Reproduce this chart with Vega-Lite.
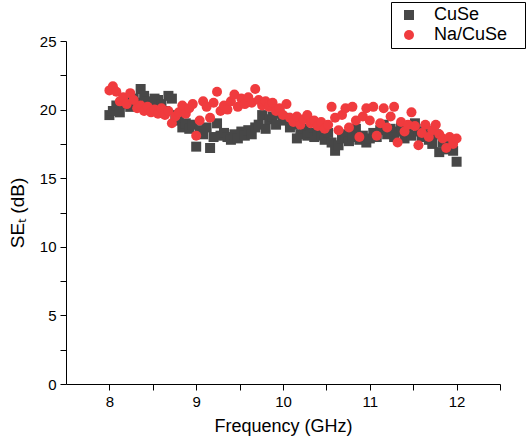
{
  "$schema": "https://vega.github.io/schema/vega-lite/v6.json",
  "width": 434,
  "height": 343,
  "autosize": {"type": "none"},
  "padding": {"left": 66, "top": 41, "right": 31, "bottom": 57},
  "background": "white",
  "config": {
    "view": {"stroke": null},
    "font": "Liberation Sans",
    "axis": {
      "grid": false,
      "domainColor": "black",
      "tickColor": "black",
      "labelColor": "black",
      "titleColor": "black",
      "labelFont": "Liberation Sans",
      "titleFont": "Liberation Sans",
      "labelFontSize": 15,
      "titleFontSize": 18,
      "titleFontWeight": "normal",
      "domainWidth": 1,
      "tickWidth": 1
    }
  },
  "data": {
    "values": [
      {"f":8.00,"v":19.6,"s":"CuSe"},{"f":8.04,"v":19.9,"s":"CuSe"},{"f":8.08,"v":20.3,"s":"CuSe"},{"f":8.12,"v":19.8,"s":"CuSe"},{"f":8.16,"v":20.4,"s":"CuSe"},
      {"f":8.20,"v":20.6,"s":"CuSe"},{"f":8.24,"v":20.2,"s":"CuSe"},{"f":8.28,"v":20.8,"s":"CuSe"},{"f":8.32,"v":20.5,"s":"CuSe"},{"f":8.36,"v":21.5,"s":"CuSe"},
      {"f":8.40,"v":21.0,"s":"CuSe"},{"f":8.44,"v":20.6,"s":"CuSe"},{"f":8.48,"v":20.3,"s":"CuSe"},{"f":8.52,"v":20.8,"s":"CuSe"},{"f":8.56,"v":20.7,"s":"CuSe"},
      {"f":8.60,"v":20.4,"s":"CuSe"},{"f":8.64,"v":19.9,"s":"CuSe"},{"f":8.68,"v":21.0,"s":"CuSe"},{"f":8.72,"v":20.8,"s":"CuSe"},{"f":8.76,"v":19.6,"s":"CuSe"},
      {"f":8.80,"v":19.2,"s":"CuSe"},{"f":8.84,"v":18.7,"s":"CuSe"},{"f":8.88,"v":19.0,"s":"CuSe"},{"f":8.92,"v":18.6,"s":"CuSe"},{"f":8.96,"v":18.9,"s":"CuSe"},
      {"f":9.00,"v":17.3,"s":"CuSe"},{"f":9.04,"v":18.5,"s":"CuSe"},{"f":9.08,"v":18.2,"s":"CuSe"},{"f":9.12,"v":18.7,"s":"CuSe"},{"f":9.16,"v":17.2,"s":"CuSe"},
      {"f":9.20,"v":18.0,"s":"CuSe"},{"f":9.24,"v":19.0,"s":"CuSe"},{"f":9.28,"v":18.1,"s":"CuSe"},{"f":9.32,"v":18.3,"s":"CuSe"},{"f":9.36,"v":18.0,"s":"CuSe"},
      {"f":9.40,"v":17.8,"s":"CuSe"},{"f":9.44,"v":18.2,"s":"CuSe"},{"f":9.48,"v":17.9,"s":"CuSe"},{"f":9.52,"v":18.4,"s":"CuSe"},{"f":9.56,"v":18.1,"s":"CuSe"},
      {"f":9.60,"v":18.5,"s":"CuSe"},{"f":9.64,"v":18.2,"s":"CuSe"},{"f":9.68,"v":18.7,"s":"CuSe"},{"f":9.72,"v":18.9,"s":"CuSe"},{"f":9.76,"v":19.6,"s":"CuSe"},
      {"f":9.80,"v":18.6,"s":"CuSe"},{"f":9.84,"v":19.3,"s":"CuSe"},{"f":9.88,"v":19.5,"s":"CuSe"},{"f":9.92,"v":18.9,"s":"CuSe"},{"f":9.96,"v":19.7,"s":"CuSe"},
      {"f":10.00,"v":19.2,"s":"CuSe"},{"f":10.04,"v":19.4,"s":"CuSe"},{"f":10.08,"v":18.7,"s":"CuSe"},{"f":10.12,"v":18.9,"s":"CuSe"},{"f":10.16,"v":17.9,"s":"CuSe"},
      {"f":10.20,"v":18.2,"s":"CuSe"},{"f":10.24,"v":18.6,"s":"CuSe"},{"f":10.28,"v":18.1,"s":"CuSe"},{"f":10.32,"v":18.3,"s":"CuSe"},{"f":10.36,"v":18.0,"s":"CuSe"},
      {"f":10.40,"v":18.4,"s":"CuSe"},{"f":10.44,"v":18.1,"s":"CuSe"},{"f":10.48,"v":17.8,"s":"CuSe"},{"f":10.52,"v":18.3,"s":"CuSe"},{"f":10.56,"v":17.6,"s":"CuSe"},
      {"f":10.60,"v":17.0,"s":"CuSe"},{"f":10.64,"v":17.4,"s":"CuSe"},{"f":10.68,"v":17.9,"s":"CuSe"},{"f":10.72,"v":18.2,"s":"CuSe"},{"f":10.76,"v":17.7,"s":"CuSe"},
      {"f":10.80,"v":18.0,"s":"CuSe"},{"f":10.84,"v":18.6,"s":"CuSe"},{"f":10.88,"v":17.8,"s":"CuSe"},{"f":10.92,"v":18.1,"s":"CuSe"},{"f":10.96,"v":17.6,"s":"CuSe"},
      {"f":11.00,"v":17.9,"s":"CuSe"},{"f":11.04,"v":18.3,"s":"CuSe"},{"f":11.08,"v":18.0,"s":"CuSe"},{"f":11.12,"v":18.5,"s":"CuSe"},{"f":11.16,"v":18.9,"s":"CuSe"},
      {"f":11.20,"v":18.2,"s":"CuSe"},{"f":11.24,"v":18.6,"s":"CuSe"},{"f":11.28,"v":18.0,"s":"CuSe"},{"f":11.32,"v":18.4,"s":"CuSe"},{"f":11.36,"v":18.7,"s":"CuSe"},
      {"f":11.40,"v":17.9,"s":"CuSe"},{"f":11.44,"v":18.3,"s":"CuSe"},{"f":11.48,"v":18.1,"s":"CuSe"},{"f":11.52,"v":19.0,"s":"CuSe"},{"f":11.56,"v":18.4,"s":"CuSe"},
      {"f":11.60,"v":18.0,"s":"CuSe"},{"f":11.64,"v":18.6,"s":"CuSe"},{"f":11.68,"v":17.8,"s":"CuSe"},{"f":11.72,"v":17.5,"s":"CuSe"},{"f":11.76,"v":18.2,"s":"CuSe"},
      {"f":11.80,"v":16.9,"s":"CuSe"},{"f":11.84,"v":17.6,"s":"CuSe"},{"f":11.88,"v":17.1,"s":"CuSe"},{"f":11.92,"v":17.4,"s":"CuSe"},{"f":11.96,"v":17.0,"s":"CuSe"},
      {"f":12.00,"v":16.2,"s":"CuSe"},
      {"f":8.00,"v":21.4,"s":"Na/CuSe"},{"f":8.04,"v":21.7,"s":"Na/CuSe"},{"f":8.08,"v":21.3,"s":"Na/CuSe"},{"f":8.12,"v":20.6,"s":"Na/CuSe"},{"f":8.16,"v":20.9,"s":"Na/CuSe"},
      {"f":8.20,"v":20.4,"s":"Na/CuSe"},{"f":8.24,"v":21.2,"s":"Na/CuSe"},{"f":8.28,"v":20.7,"s":"Na/CuSe"},{"f":8.32,"v":20.1,"s":"Na/CuSe"},{"f":8.36,"v":20.3,"s":"Na/CuSe"},
      {"f":8.40,"v":19.9,"s":"Na/CuSe"},{"f":8.44,"v":20.2,"s":"Na/CuSe"},{"f":8.48,"v":19.8,"s":"Na/CuSe"},{"f":8.52,"v":20.0,"s":"Na/CuSe"},{"f":8.56,"v":19.7,"s":"Na/CuSe"},
      {"f":8.60,"v":20.1,"s":"Na/CuSe"},{"f":8.64,"v":19.6,"s":"Na/CuSe"},{"f":8.68,"v":19.9,"s":"Na/CuSe"},{"f":8.72,"v":19.0,"s":"Na/CuSe"},{"f":8.76,"v":19.5,"s":"Na/CuSe"},
      {"f":8.80,"v":19.8,"s":"Na/CuSe"},{"f":8.84,"v":20.3,"s":"Na/CuSe"},{"f":8.88,"v":19.7,"s":"Na/CuSe"},{"f":8.92,"v":20.1,"s":"Na/CuSe"},{"f":8.96,"v":20.4,"s":"Na/CuSe"},
      {"f":9.00,"v":18.1,"s":"Na/CuSe"},{"f":9.04,"v":19.2,"s":"Na/CuSe"},{"f":9.08,"v":20.6,"s":"Na/CuSe"},{"f":9.12,"v":20.2,"s":"Na/CuSe"},{"f":9.16,"v":19.4,"s":"Na/CuSe"},
      {"f":9.20,"v":20.5,"s":"Na/CuSe"},{"f":9.24,"v":21.3,"s":"Na/CuSe"},{"f":9.28,"v":19.9,"s":"Na/CuSe"},{"f":9.32,"v":20.3,"s":"Na/CuSe"},{"f":9.36,"v":20.0,"s":"Na/CuSe"},
      {"f":9.40,"v":20.6,"s":"Na/CuSe"},{"f":9.44,"v":21.1,"s":"Na/CuSe"},{"f":9.48,"v":20.2,"s":"Na/CuSe"},{"f":9.52,"v":20.8,"s":"Na/CuSe"},{"f":9.56,"v":20.4,"s":"Na/CuSe"},
      {"f":9.60,"v":20.9,"s":"Na/CuSe"},{"f":9.64,"v":20.5,"s":"Na/CuSe"},{"f":9.68,"v":21.5,"s":"Na/CuSe"},{"f":9.72,"v":20.7,"s":"Na/CuSe"},{"f":9.76,"v":20.3,"s":"Na/CuSe"},
      {"f":9.80,"v":20.6,"s":"Na/CuSe"},{"f":9.84,"v":20.2,"s":"Na/CuSe"},{"f":9.88,"v":20.5,"s":"Na/CuSe"},{"f":9.92,"v":19.9,"s":"Na/CuSe"},{"f":9.96,"v":20.1,"s":"Na/CuSe"},
      {"f":10.00,"v":19.6,"s":"Na/CuSe"},{"f":10.04,"v":20.4,"s":"Na/CuSe"},{"f":10.08,"v":19.4,"s":"Na/CuSe"},{"f":10.12,"v":19.1,"s":"Na/CuSe"},{"f":10.16,"v":19.5,"s":"Na/CuSe"},
      {"f":10.20,"v":18.9,"s":"Na/CuSe"},{"f":10.24,"v":19.3,"s":"Na/CuSe"},{"f":10.28,"v":19.6,"s":"Na/CuSe"},{"f":10.32,"v":19.0,"s":"Na/CuSe"},{"f":10.36,"v":19.2,"s":"Na/CuSe"},
      {"f":10.40,"v":18.8,"s":"Na/CuSe"},{"f":10.44,"v":19.1,"s":"Na/CuSe"},{"f":10.48,"v":18.6,"s":"Na/CuSe"},{"f":10.52,"v":18.9,"s":"Na/CuSe"},{"f":10.56,"v":20.2,"s":"Na/CuSe"},
      {"f":10.60,"v":19.4,"s":"Na/CuSe"},{"f":10.64,"v":18.5,"s":"Na/CuSe"},{"f":10.68,"v":19.6,"s":"Na/CuSe"},{"f":10.72,"v":20.1,"s":"Na/CuSe"},{"f":10.76,"v":18.7,"s":"Na/CuSe"},
      {"f":10.80,"v":20.2,"s":"Na/CuSe"},{"f":10.84,"v":19.2,"s":"Na/CuSe"},{"f":10.88,"v":18.0,"s":"Na/CuSe"},{"f":10.92,"v":19.5,"s":"Na/CuSe"},{"f":10.96,"v":20.1,"s":"Na/CuSe"},
      {"f":11.00,"v":19.2,"s":"Na/CuSe"},{"f":11.04,"v":20.2,"s":"Na/CuSe"},{"f":11.08,"v":18.1,"s":"Na/CuSe"},{"f":11.12,"v":19.0,"s":"Na/CuSe"},{"f":11.16,"v":20.1,"s":"Na/CuSe"},
      {"f":11.20,"v":18.7,"s":"Na/CuSe"},{"f":11.24,"v":19.5,"s":"Na/CuSe"},{"f":11.28,"v":20.2,"s":"Na/CuSe"},{"f":11.32,"v":17.6,"s":"Na/CuSe"},{"f":11.36,"v":19.1,"s":"Na/CuSe"},
      {"f":11.40,"v":18.4,"s":"Na/CuSe"},{"f":11.44,"v":18.9,"s":"Na/CuSe"},{"f":11.48,"v":19.8,"s":"Na/CuSe"},{"f":11.52,"v":18.8,"s":"Na/CuSe"},{"f":11.56,"v":17.4,"s":"Na/CuSe"},
      {"f":11.60,"v":18.3,"s":"Na/CuSe"},{"f":11.64,"v":18.9,"s":"Na/CuSe"},{"f":11.68,"v":18.0,"s":"Na/CuSe"},{"f":11.72,"v":18.5,"s":"Na/CuSe"},{"f":11.76,"v":18.9,"s":"Na/CuSe"},
      {"f":11.80,"v":18.2,"s":"Na/CuSe"},{"f":11.84,"v":17.9,"s":"Na/CuSe"},{"f":11.88,"v":17.2,"s":"Na/CuSe"},{"f":11.92,"v":18.0,"s":"Na/CuSe"},{"f":11.96,"v":17.5,"s":"Na/CuSe"},
      {"f":12.00,"v":17.9,"s":"Na/CuSe"}
    ]
  },
  "mark": {"type": "point", "filled": true, "opacity": 1, "size": 100},
  "encoding": {
    "x": {
      "field": "f", "type": "quantitative",
      "scale": {"domain": [7.5, 12.5], "nice": false, "zero": false},
      "axis": {
        "title": "Frequency (GHz)",
        "values": [8, 8.5, 9, 9.5, 10, 10.5, 11, 11.5, 12, 12.5],
        "labelExpr": "datum.value % 1 === 0 ? format(datum.value, 'd') : ''",
        "tickSize": 6,
        "labelPadding": 4,
        "titlePadding": 8,
        "labelFlush": false,
        "encode": {"ticks": {"update": {"y2": {"signal": "datum.value % 1 === 0 ? 6 : 3"}}}}
      }
    },
    "y": {
      "field": "v", "type": "quantitative",
      "scale": {"domain": [0, 25], "nice": false},
      "axis": {
        "title": "SEₜ (dB)",
        "titleFontSize": 19,
        "values": [0, 2.5, 5, 7.5, 10, 12.5, 15, 17.5, 20, 22.5, 25],
        "labelExpr": "datum.value % 5 === 0 ? format(datum.value, 'd') : ''",
        "tickSize": 6,
        "labelPadding": 4,
        "titlePadding": 12,
        "labelFlush": false,
        "encode": {"ticks": {"update": {"x2": {"signal": "datum.value % 5 === 0 ? -6 : -3"}}}}
      }
    },
    "color": {
      "field": "s", "type": "nominal",
      "scale": {"domain": ["CuSe", "Na/CuSe"], "range": ["#474747", "#f03b3e"]},
      "legend": {
        "title": null,
        "orient": "none",
        "legendX": 325,
        "legendY": -39,
        "strokeColor": "black",
        "fillColor": "white",
        "padding": 4,
        "labelFontSize": 18,
        "labelFont": "Liberation Sans",
        "labelColor": "black",
        "labelExpr": "datum.label + '\u2800'",
        "symbolSize": 100,
        "symbolOffset": 5,
        "rowPadding": 2,
        "labelOffset": 16
      }
    },
    "shape": {
      "field": "s", "type": "nominal",
      "scale": {"domain": ["CuSe", "Na/CuSe"], "range": ["square", "circle"]}
    },
    "order": {"field": "s", "sort": "ascending"}
  }
}
